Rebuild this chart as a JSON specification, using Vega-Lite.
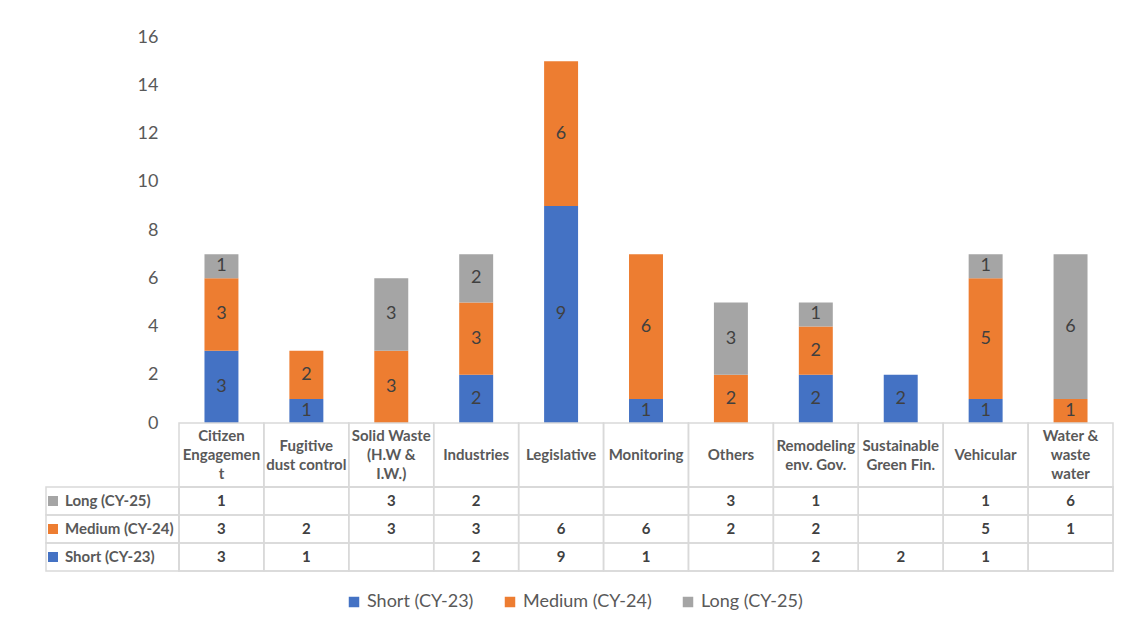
{
  "$schema": "https://vega.github.io/schema/vega-lite/v6.json",
  "padding": {"left": 45, "top": 28, "right": 0, "bottom": 0},
  "autosize": {"type": "pad"},
  "background": "white",
  "config": {"view": {"stroke": null}, "font": "Lato", "concat": {"spacing": 0}},
  "datasets": {
    "plan": [
      {"category": "Citizen Engagement", "series": "Short (CY-23)", "value": 3},
      {"category": "Citizen Engagement", "series": "Medium (CY-24)", "value": 3},
      {"category": "Citizen Engagement", "series": "Long (CY-25)", "value": 1},
      {"category": "Fugitive dust control", "series": "Short (CY-23)", "value": 1},
      {"category": "Fugitive dust control", "series": "Medium (CY-24)", "value": 2},
      {"category": "Solid Waste (H.W & I.W.)", "series": "Medium (CY-24)", "value": 3},
      {"category": "Solid Waste (H.W & I.W.)", "series": "Long (CY-25)", "value": 3},
      {"category": "Industries", "series": "Short (CY-23)", "value": 2},
      {"category": "Industries", "series": "Medium (CY-24)", "value": 3},
      {"category": "Industries", "series": "Long (CY-25)", "value": 2},
      {"category": "Legislative", "series": "Short (CY-23)", "value": 9},
      {"category": "Legislative", "series": "Medium (CY-24)", "value": 6},
      {"category": "Monitoring", "series": "Short (CY-23)", "value": 1},
      {"category": "Monitoring", "series": "Medium (CY-24)", "value": 6},
      {"category": "Others", "series": "Medium (CY-24)", "value": 2},
      {"category": "Others", "series": "Long (CY-25)", "value": 3},
      {"category": "Remodeling env. Gov.", "series": "Short (CY-23)", "value": 2},
      {"category": "Remodeling env. Gov.", "series": "Medium (CY-24)", "value": 2},
      {"category": "Remodeling env. Gov.", "series": "Long (CY-25)", "value": 1},
      {"category": "Sustainable Green Fin.", "series": "Short (CY-23)", "value": 2},
      {"category": "Vehicular", "series": "Short (CY-23)", "value": 1},
      {"category": "Vehicular", "series": "Medium (CY-24)", "value": 5},
      {"category": "Vehicular", "series": "Long (CY-25)", "value": 1},
      {"category": "Water & waste water", "series": "Medium (CY-24)", "value": 1},
      {"category": "Water & waste water", "series": "Long (CY-25)", "value": 6}
    ],
    "cats": [
      {"category": "Citizen Engagement", "label": "Citizen\nEngagemen\nt"},
      {"category": "Fugitive dust control", "label": "Fugitive\ndust control"},
      {"category": "Solid Waste (H.W & I.W.)", "label": "Solid Waste\n(H.W &\nI.W.)"},
      {"category": "Industries", "label": "Industries"},
      {"category": "Legislative", "label": "Legislative"},
      {"category": "Monitoring", "label": "Monitoring"},
      {"category": "Others", "label": "Others"},
      {"category": "Remodeling env. Gov.", "label": "Remodeling\nenv. Gov."},
      {"category": "Sustainable Green Fin.", "label": "Sustainable\nGreen Fin."},
      {"category": "Vehicular", "label": "Vehicular"},
      {"category": "Water & waste water", "label": "Water &\nwaste\nwater"}
    ],
    "series": [
      {"series": "Long (CY-25)"},
      {"series": "Medium (CY-24)"},
      {"series": "Short (CY-23)"}
    ]
  },
  "columns": 2,
  "spacing": 0,
  "bounds": "flush",
  "align": "each",
  "concat": [
    {
      "width": 133,
      "height": 386,
      "data": {"values": [{"k": 1}]},
      "mark": {"type": "rect", "fill": "white", "opacity": 0}
    },
    {
      "width": 934,
      "height": 386,
      "data": {"name": "plan"},
      "transform": [
        {"stack": "value", "groupby": ["category"], "sort": [{"field": "series", "order": "descending"}], "as": ["y0", "y1"]}
      ],
      "layer": [
        {
          "mark": {"type": "bar"},
          "encoding": {
            "x": {"field": "category", "type": "nominal", "scale": {"domain": ["Citizen Engagement", "Fugitive dust control", "Solid Waste (H.W & I.W.)", "Industries", "Legislative", "Monitoring", "Others", "Remodeling env. Gov.", "Sustainable Green Fin.", "Vehicular", "Water & waste water"], "paddingInner": 0.6, "paddingOuter": 0.3}, "axis": null},
            "y": {"field": "y1", "type": "quantitative", "scale": {"domain": [0, 16], "nice": false},
              "axis": {"title": null, "values": [0, 2, 4, 6, 8, 10, 12, 14, 16], "ticks": false, "tickSize": 0, "domain": false, "grid": false, "labelFontSize": 18, "labelColor": "#595959", "labelPadding": 21}},
            "y2": {"field": "y0"},
            "color": {"field": "series", "type": "nominal",
              "scale": {"domain": ["Short (CY-23)", "Medium (CY-24)", "Long (CY-25)"], "range": ["#4472C4", "#ED7D31", "#A5A5A5"]},
              "legend": {"title": null, "orient": "none", "direction": "horizontal", "legendX": 299, "legendY": 556, "padding": 0, "symbolType": "square", "symbolSize": 110, "symbolStrokeWidth": 0, "labelFontSize": 18, "labelColor": "#595959", "labelOffset": 4, "columnPadding": 27}}
          }
        },
        {
          "transform": [
            {"fold": ["y0", "y1"], "as": ["edge", "pos"]},
            {"aggregate": [{"op": "mean", "field": "pos", "as": "mid"}], "groupby": ["category", "series", "value"]}
          ],
          "mark": {"type": "text", "fontSize": 18, "color": "#404040", "baseline": "middle"},
          "encoding": {
            "x": {"field": "category", "type": "nominal"},
            "y": {"field": "mid", "type": "quantitative"},
            "text": {"field": "value", "type": "quantitative"}
          }
        }
      ]
    },
    {
      "width": 133,
      "height": 64,
      "data": {"values": [{"k": 1}]},
      "mark": {"type": "rect", "fill": "white", "opacity": 0}
    },
    {
      "width": 934,
      "height": 64,
      "data": {"name": "cats"},
      "layer": [
        {
          "mark": {"type": "rect", "filled": false, "stroke": "#d9d9d9", "strokeWidth": 1.5},
          "encoding": {
            "x": {"field": "category", "type": "nominal", "scale": {"domain": ["Citizen Engagement", "Fugitive dust control", "Solid Waste (H.W & I.W.)", "Industries", "Legislative", "Monitoring", "Others", "Remodeling env. Gov.", "Sustainable Green Fin.", "Vehicular", "Water & waste water"], "paddingInner": 0, "paddingOuter": 0}, "axis": null}
          }
        },
        {
          "transform": [{"filter": "length(split(datum.label, '\\n')) == 1"}],
          "mark": {"type": "text", "fontSize": 15, "fontWeight": "bold", "color": "#595959", "baseline": "middle"},
          "encoding": {
            "x": {"field": "category", "type": "nominal"},
            "text": {"field": "label"}
          }
        },
        {
          "transform": [{"filter": "length(split(datum.label, '\\n')) == 2"}],
          "mark": {"type": "text", "fontSize": 15, "fontWeight": "bold", "color": "#595959", "lineBreak": "\n", "lineHeight": 19, "baseline": "middle", "dy": -9.5},
          "encoding": {
            "x": {"field": "category", "type": "nominal"},
            "text": {"field": "label"}
          }
        },
        {
          "transform": [{"filter": "length(split(datum.label, '\\n')) == 3"}],
          "mark": {"type": "text", "fontSize": 15, "fontWeight": "bold", "color": "#595959", "lineBreak": "\n", "lineHeight": 19, "baseline": "middle", "dy": -19},
          "encoding": {
            "x": {"field": "category", "type": "nominal"},
            "text": {"field": "label"}
          }
        }
      ]
    },
    {
      "width": 133,
      "height": 84,
      "data": {"name": "series"},
      "layer": [
        {
          "mark": {"type": "rect", "filled": false, "stroke": "#d9d9d9", "strokeWidth": 1.5},
          "encoding": {
            "y": {"field": "series", "type": "nominal", "scale": {"domain": ["Long (CY-25)", "Medium (CY-24)", "Short (CY-23)"], "paddingInner": 0, "paddingOuter": 0}, "axis": null}
          }
        },
        {
          "mark": {"type": "point", "shape": "square", "filled": true, "size": 100, "opacity": 1, "xOffset": -59.5},
          "encoding": {
            "y": {"field": "series", "type": "nominal"},
            "color": {"field": "series", "type": "nominal", "scale": {"domain": ["Short (CY-23)", "Medium (CY-24)", "Long (CY-25)"], "range": ["#4472C4", "#ED7D31", "#A5A5A5"]}, "legend": null}
          }
        },
        {
          "mark": {"type": "text", "align": "left", "baseline": "middle", "xOffset": -47.5, "fontSize": 15, "fontWeight": "bold", "color": "#595959"},
          "encoding": {
            "y": {"field": "series", "type": "nominal"},
            "text": {"field": "series"}
          }
        }
      ]
    },
    {
      "width": 934,
      "height": 84,
      "layer": [
        {
          "data": {"name": "cats"},
          "mark": {"type": "rect", "filled": false, "stroke": "#d9d9d9", "strokeWidth": 1.5},
          "encoding": {
            "x": {"field": "category", "type": "nominal", "scale": {"domain": ["Citizen Engagement", "Fugitive dust control", "Solid Waste (H.W & I.W.)", "Industries", "Legislative", "Monitoring", "Others", "Remodeling env. Gov.", "Sustainable Green Fin.", "Vehicular", "Water & waste water"], "paddingInner": 0, "paddingOuter": 0}, "axis": null}
          }
        },
        {
          "data": {"name": "series"},
          "mark": {"type": "rect", "filled": false, "stroke": "#d9d9d9", "strokeWidth": 1.5},
          "encoding": {
            "y": {"field": "series", "type": "nominal", "scale": {"domain": ["Long (CY-25)", "Medium (CY-24)", "Short (CY-23)"], "paddingInner": 0, "paddingOuter": 0}, "axis": null}
          }
        },
        {
          "data": {"name": "plan"},
          "mark": {"type": "text", "fontSize": 15, "fontWeight": "bold", "color": "#404040", "baseline": "middle"},
          "encoding": {
            "x": {"field": "category", "type": "nominal"},
            "y": {"field": "series", "type": "nominal"},
            "text": {"field": "value", "type": "quantitative"}
          }
        }
      ]
    }
  ]
}
